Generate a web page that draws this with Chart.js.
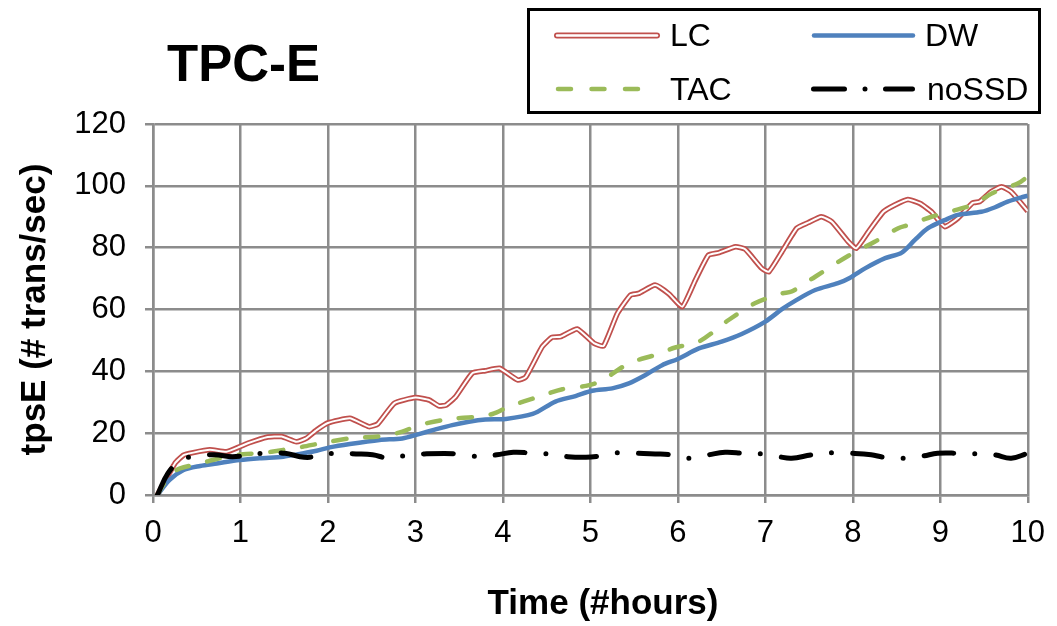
<!DOCTYPE html>
<html>
<head>
<meta charset="utf-8">
<script src="https://cdn.jsdelivr.net/npm/chart.js@4/dist/chart.umd.min.js"></script>
<style>
  html, body { margin: 0; padding: 0; background: #fff; }
  .wrap { position: relative; width: 1057px; height: 626px; }
  #chart { position: absolute; left: 0; top: 0; }
  #overlay { position: absolute; left: 0; top: 0; pointer-events: none; }
  #overlay text { font-family: "Liberation Sans", Arial, sans-serif; fill: #000; }
</style>
</head>
<body>
<div class="wrap">
  <canvas id="chart" width="1057" height="626"></canvas>
  <svg id="overlay" width="1057" height="626">
    <text x="167" y="81" font-size="51" font-weight="bold">TPC-E</text>
    <text x="603" y="614" font-size="35" font-weight="bold" text-anchor="middle">Time (#hours)</text>
    <rect x="528.5" y="9.5" width="511" height="103" fill="#fff" stroke="#000" stroke-width="3"/>
    <!-- LC: hollow double line -->
    <line x1="557" y1="35.5" x2="657" y2="35.5" stroke="#c0504d" stroke-width="6" stroke-linecap="round"/>
    <line x1="557" y1="35.5" x2="657" y2="35.5" stroke="#fff" stroke-width="2.5" stroke-linecap="round"/>
    <text x="670" y="46" font-size="32">LC</text>
    <line x1="814" y1="35.5" x2="913" y2="35.5" stroke="#4f81bd" stroke-width="4.5" stroke-linecap="round"/>
    <text x="925" y="46" font-size="32">DW</text>
    <line x1="558" y1="89" x2="638" y2="89" stroke="#9bbb59" stroke-width="4.5" stroke-linecap="round" stroke-dasharray="13 20.5"/>
    <text x="670" y="100" font-size="32">TAC</text>
    <line x1="813.5" y1="89" x2="912.5" y2="89" stroke="#000" stroke-width="5" stroke-linecap="round" stroke-dasharray="31 20.5 0 20.5"/>
    <text x="927" y="100" font-size="32">noSSD</text>
  </svg>
</div>
<script>
// hours since start / throughput, one pair of arrays per configuration
const lcHours = [0.05, 0.25, 0.35, 0.46, 0.65, 0.84, 0.99, 1.1, 1.3, 1.47, 1.64, 1.75, 1.87, 2.0,
  2.25, 2.47, 2.57, 2.76, 3.0, 3.16, 3.27, 3.35, 3.46, 3.65, 3.8, 3.96, 4.17, 4.26, 4.45, 4.56,
  4.66, 4.85, 5.04, 5.15, 5.31, 5.46, 5.55, 5.74, 5.9, 6.05, 6.2, 6.35, 6.47, 6.66, 6.77, 6.96,
  7.04, 7.19, 7.36, 7.49, 7.64, 7.76, 7.95, 8.04, 8.18, 8.35, 8.48, 8.63, 8.77, 8.9, 9.05, 9.2,
  9.37, 9.45, 9.58, 9.7, 9.81, 10.0];
const lcTps = [0, 10.2, 12.9, 13.7, 14.6, 14.0, 15.6, 16.9, 18.7, 18.9, 17.2, 18.3, 21.0, 23.3,
  24.8, 22.1, 23.0, 29.7, 31.5, 30.7, 28.8, 29.1, 31.8, 39.4, 40.2, 41.0, 37.2, 38.1, 48.0, 51.0,
  51.2, 53.7, 49.1, 48.2, 58.8, 64.7, 65.2, 67.9, 65.0, 60.9, 69.5, 77.6, 78.4, 80.3, 79.5, 73.3,
  72.2, 78.7, 86.3, 88.1, 90.0, 88.4, 81.9, 79.8, 85.2, 91.6, 93.8, 95.6, 94.3, 91.6, 86.8, 89.5,
  94.5, 94.9, 98.1, 99.7, 98.1, 91.8];

const dwHours = [0.05, 0.19, 0.35, 0.54, 0.73, 0.99, 1.22, 1.49, 1.68, 1.87, 2.02, 2.25, 2.59,
  2.85, 3.04, 3.23, 3.42, 3.61, 3.8, 4.03, 4.34, 4.6, 4.83, 5.02, 5.25, 5.44, 5.63, 5.82, 6.0,
  6.24, 6.5, 6.73, 7.0, 7.19, 7.34, 7.57, 7.83, 7.97, 8.14, 8.37, 8.56, 8.71, 8.86, 9.05, 9.2,
  9.47, 9.62, 9.77, 9.92, 10.0];
const dwTps = [0, 4.9, 8.1, 9.4, 10.2, 11.3, 11.9, 12.4, 13.3, 14.3, 15.4, 16.5, 17.8,
  18.3, 19.7, 21.2, 22.6, 23.7, 24.4, 24.6, 26.2, 30.2, 32.0, 33.7, 34.5, 36.1, 38.8, 42.0, 44.0,
  47.4, 49.6, 52.1, 56.1, 60.1, 62.8, 66.3, 68.5, 70.3, 73.3, 76.6, 78.4, 82.5, 86.3, 88.9, 90.6,
  91.6, 93.0, 94.9, 96.2, 96.8];

const tacHours = [0.05, 0.19, 0.31, 0.54, 0.76, 1.03, 1.22, 1.49, 1.71, 1.93, 2.25, 2.63, 2.85,
  3.04, 3.37, 3.69, 3.88, 4.07, 4.41, 4.68, 4.95, 5.13, 5.44, 5.74, 5.97, 6.24, 6.58, 6.88, 7.19,
  7.3, 7.57, 7.95, 8.25, 8.52, 8.63, 8.9, 9.24, 9.39, 9.58, 9.73, 9.89, 10.0];
const tacTps = [0, 6.5, 8.6, 10.2, 11.9, 13.2, 13.5, 14.6, 15.6, 16.8, 18.3, 19.1, 20.5,
  22.6, 24.5, 25.3, 26.2, 28.6, 31.8, 34.2, 35.3, 37.0, 42.6, 45.3, 47.7, 49.6, 56.6, 62.0, 65.2,
  65.8, 70.6, 77.4, 81.9, 86.3, 87.3, 90.0, 92.7, 94.1, 97.4, 99.2, 100.8, 103.0];

const noSsdHours = [0.05, 0.17, 0.3, 0.44, 0.7, 0.91, 1.12, 1.26, 1.51, 1.68, 1.79, 1.9, 2.1,
  2.32, 2.51, 2.7, 2.9, 3.1, 3.5, 3.74, 3.93, 4.12, 4.31, 4.5, 4.74, 4.95, 5.1, 5.32, 5.53, 5.74,
  5.93, 6.14, 6.35, 6.54, 6.75, 6.95, 7.15, 7.3, 7.53, 7.78, 7.98, 8.21, 8.36, 8.59, 8.8, 8.97,
  9.2, 9.4, 9.62, 9.81, 10.0];
const noSsdTps = [0, 7.0, 10.8, 12.4, 13.0, 12.4, 13.0, 13.5, 13.5, 12.4, 12.2, 13.0, 13.5,
  13.3, 13.0, 11.9, 12.8, 13.3, 13.3, 12.4, 13.0, 13.8, 13.6, 13.3, 12.4, 12.2, 12.6, 13.7, 13.5, 13.3,
  13.0, 11.9, 13.0, 13.8, 13.5, 13.3, 12.4, 11.9, 13.0, 13.7, 13.5, 13.0, 12.2, 11.9, 12.6, 13.5,
  13.5, 13.3, 13.0, 11.9, 13.5];

const hourTicks = [0, 1, 2, 3, 4, 5, 6, 7, 8, 9, 10];
const tpsTicks = [0, 20, 40, 60, 80, 100, 120];

const pts = (xs, ys) => xs.map((x, i) => ({ x: x, y: ys[i] }));

const FONT = '"Liberation Sans", Arial, sans-serif';
const GRID = '#8c8c8c';

new Chart(document.getElementById('chart'), {
  type: 'line',
  data: {
    datasets: [
      {
        label: 'noSSD', data: pts(noSsdHours, noSsdTps), order: 0,
        borderColor: '#000', borderWidth: 5, borderDash: [30, 21, 0, 21],
        borderCapStyle: 'round', tension: 0.4,
      },
      {
        label: 'TAC', data: pts(tacHours, tacTps), order: 1,
        borderColor: '#9bbb59', borderWidth: 4.5, borderDash: [13, 19],
        borderCapStyle: 'round', tension: 0.3,
      },
      {
        label: 'DW', data: pts(dwHours, dwTps), order: 2,
        borderColor: '#4f81bd', borderWidth: 4.5, tension: 0.3,
      },
      // LC is drawn twice: white core over a red stroke
      {
        label: 'LC-core', data: pts(lcHours, lcTps), order: 3,
        borderColor: '#fff', borderWidth: 2, tension: 0.15,
      },
      {
        label: 'LC', data: pts(lcHours, lcTps), order: 4,
        borderColor: '#c0504d', borderWidth: 5.5, tension: 0.15,
      },
    ],
  },
  options: {
    responsive: false,
    animation: false,
    events: [],
    elements: { point: { radius: 0 }, line: { borderJoinStyle: 'round' } },
    layout: { padding: { left: 0, top: 124, right: 27, bottom: 0 } },
    plugins: { legend: { display: false }, tooltip: { enabled: false } },
    scales: {
      x: {
        type: 'linear', min: 0, max: 10,
        afterFit: (s) => { s.height = 131; },
        afterBuildTicks: (s) => { s.ticks = hourTicks.map((v) => ({ value: v })); },
        grid: { color: GRID, lineWidth: 2.5, tickLength: 8, tickColor: GRID },
        border: { color: GRID, width: 2.5 },
        ticks: { color: '#000', font: { family: FONT, size: 31 }, padding: 12, maxRotation: 0 },
      },
      y: {
        min: 0, max: 120,
        afterFit: (s) => { s.width = 153; },
        afterBuildTicks: (s) => { s.ticks = tpsTicks.map((v) => ({ value: v })); },
        grid: { color: GRID, lineWidth: 2.5, tickLength: 8, tickColor: GRID },
        border: { color: GRID, width: 2.5 },
        ticks: { color: '#000', font: { family: FONT, size: 31 }, padding: 19 },
        title: {
          display: true, text: 'tpsE (# trans/sec)', color: '#000',
          font: { family: FONT, size: 35, weight: 'bold' }, padding: { top: 14, bottom: 0 },
        },
      },
    },
  },
});
</script>
</body>
</html>
